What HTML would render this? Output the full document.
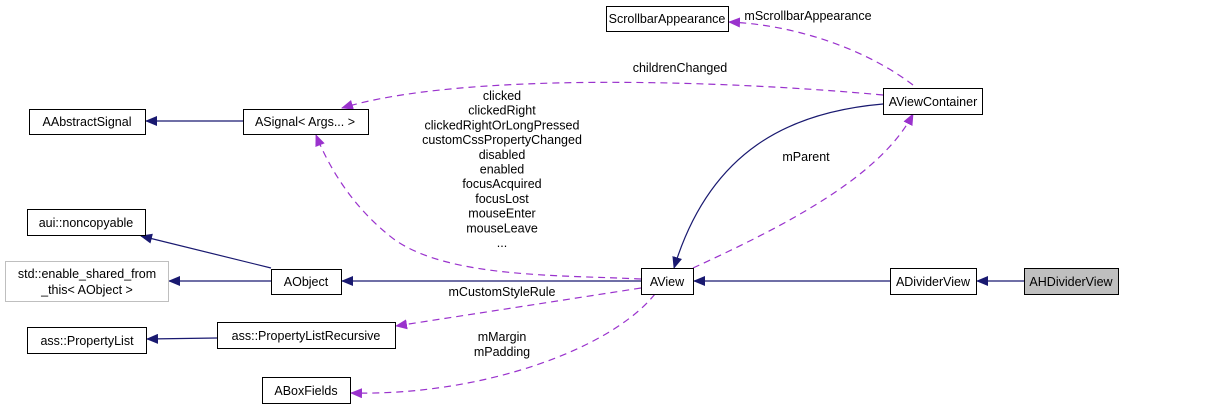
<!DOCTYPE html>
<html><head><meta charset="utf-8"><style>
html,body{margin:0;padding:0;background:#fff;}
svg{display:block;}
text{font-family:"Liberation Sans",sans-serif;font-size:12.5px;fill:#000;}
</style></head><body>
<svg width="1213" height="409" viewBox="0 0 1213 409" xmlns="http://www.w3.org/2000/svg">
<defs>
<marker id="n" markerWidth="12" markerHeight="10" refX="11" refY="5" orient="auto" markerUnits="userSpaceOnUse"><path d="M0,0 L12,5 L0,10 Z" fill="#191970"/></marker>
<marker id="p" markerWidth="12" markerHeight="10" refX="11" refY="5" orient="auto" markerUnits="userSpaceOnUse"><path d="M0,0 L12,5 L0,10 Z" fill="#9a32cd"/></marker>
</defs>
<g fill="none" stroke="#191970" stroke-width="1.2">
<path d="M243,121 L146,121" marker-end="url(#n)"/>
<path d="M271,268 L141,236" marker-end="url(#n)"/>
<path d="M271,281 L169,281" marker-end="url(#n)"/>
<path d="M641,281 L342,281" marker-end="url(#n)"/>
<path d="M890,281 L694,281" marker-end="url(#n)"/>
<path d="M1024,281 L977,281" marker-end="url(#n)"/>
<path d="M217,338 L147,339" marker-end="url(#n)"/>
<path d="M883,104 C790,112 710,150 674,268" marker-end="url(#n)"/>
</g>
<g fill="none" stroke="#9a32cd" stroke-width="1.2" stroke-dasharray="7,5">
<path d="M641,279 C560,275 450,278 395,240 C355,210 330,170 316,135" marker-end="url(#p)"/>
<path d="M883,95 C720,80 460,72 342,108" marker-end="url(#p)"/>
<path d="M913,85 C870,52 800,25 729,22" marker-end="url(#p)"/>
<path d="M693,268 C780,228 880,178 913,114" marker-end="url(#p)"/>
<path d="M641,288 L396,326" marker-end="url(#p)"/>
<path d="M655,294 C610,350 480,396 351,393" marker-end="url(#p)"/>
</g>
<g stroke="#000" stroke-width="1" fill="#fff">
<rect x="29.5" y="109.5" width="116" height="25"/>
<rect x="243.5" y="109.5" width="125" height="25"/>
<rect x="27.5" y="209.5" width="118" height="26"/>
<rect x="5.5" y="261.5" width="163" height="40" stroke="#bfbfbf"/>
<rect x="271.5" y="269.5" width="70" height="25"/>
<rect x="27.5" y="327.5" width="119" height="26"/>
<rect x="217.5" y="322.5" width="178" height="26"/>
<rect x="262.5" y="377.5" width="88" height="26"/>
<rect x="606.5" y="6.5" width="122" height="25"/>
<rect x="883.5" y="88.5" width="99" height="26"/>
<rect x="641.5" y="268.5" width="52" height="26"/>
<rect x="890.5" y="268.5" width="86" height="26"/>
<rect x="1024.5" y="268.5" width="94" height="26" fill="#bfbfbf"/>
</g>
<g text-anchor="middle">
<text x="87" y="126">AAbstractSignal</text>
<text x="305" y="126">ASignal&lt; Args... &gt;</text>
<text x="86" y="227">aui::noncopyable</text>
<text x="87" y="278">std::enable_shared_from</text>
<text x="87" y="294">_this&lt; AObject &gt;</text>
<text x="306" y="286">AObject</text>
<text x="87" y="345">ass::PropertyList</text>
<text x="306" y="340">ass::PropertyListRecursive</text>
<text x="306" y="395">ABoxFields</text>
<text x="667" y="23">ScrollbarAppearance</text>
<text x="933" y="106">AViewContainer</text>
<text x="667" y="286">AView</text>
<text x="933" y="286">ADividerView</text>
<text x="1071" y="286">AHDividerView</text>
<text x="808" y="20">mScrollbarAppearance</text>
<text x="680" y="72">childrenChanged</text>
<text x="806" y="161">mParent</text>
<text x="502" y="100">clicked</text>
<text x="502" y="114.7">clickedRight</text>
<text x="502" y="129.4">clickedRightOrLongPressed</text>
<text x="502" y="144.1">customCssPropertyChanged</text>
<text x="502" y="158.8">disabled</text>
<text x="502" y="173.5">enabled</text>
<text x="502" y="188.2">focusAcquired</text>
<text x="502" y="202.9">focusLost</text>
<text x="502" y="217.6">mouseEnter</text>
<text x="502" y="232.3">mouseLeave</text>
<text x="502" y="247">...</text>
<text x="502" y="296">mCustomStyleRule</text>
<text x="502" y="341">mMargin</text>
<text x="502" y="356">mPadding</text>
</g>
</svg>
</body></html>
